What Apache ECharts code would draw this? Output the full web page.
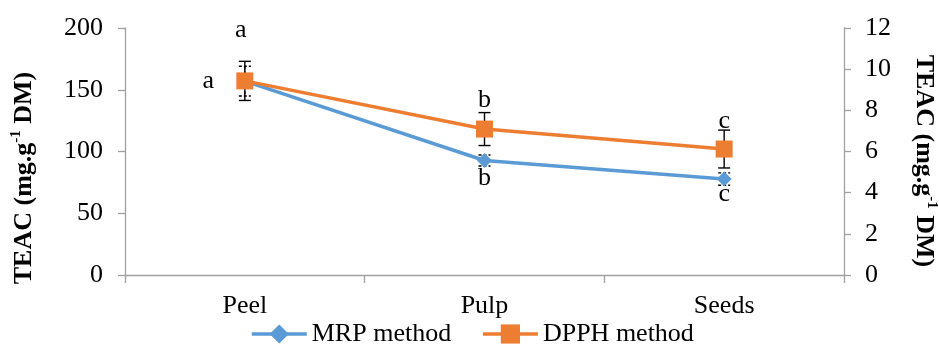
<!DOCTYPE html>
<html><head><meta charset="utf-8">
<script src="https://cdn.jsdelivr.net/npm/echarts@6/dist/echarts.min.js"></script>
<style>html,body{margin:0;padding:0;background:#fff}#c{width:939px;height:345px}</style>
</head><body><div id="c"></div>
<script>
// ---- data ----
const categories = ['Peel', 'Pulp', 'Seeds'];
const mrpValues = [157, 92.7, 77.7];      // left axis
const mrpErrors = [12, 4.5, 5];
const dpphValues = [9.43, 7.09, 6.12];    // right axis
const dpphErrors = [0.95, 0.8, 0.92];
const mrpLetters = ['a', 'b', 'c'];
const dpphLetters = ['a', 'b', 'c'];
const seriesNames = ['MRP method', 'DPPH method'];
const leftTicks = [0, 50, 100, 150, 200];
const rightTicks = [0, 2, 4, 6, 8, 10, 12];

// ---- style ----
const FONT = '"Liberation Serif", "Times New Roman", serif';
const BLUE = '#5B9BD5', ORANGE = '#ED7D31', AXIS = '#a0a0a0';
const mrpLabelOffsets = [[-36.5, 0], [0, 17.5], [0, 15.5]];
const dpphLabelOffsets = [[-4, -51], [0, -29], [0, -28]];

function errRender(dash) {
  return function (params, api) {
    const x = api.value(0), v = api.value(1), e = api.value(2);
    const t = api.coord([x, v + e]), b = api.coord([x, v - e]);
    const hw = 6;
    const st = { stroke: '#000', lineWidth: 1.4, lineDash: dash };
    return {
      type: 'group', children: [
        { type: 'line', shape: { x1: t[0], y1: t[1], x2: b[0], y2: b[1] }, style: st },
        { type: 'line', shape: { x1: t[0] - hw, y1: t[1], x2: t[0] + hw, y2: t[1] }, style: st },
        { type: 'line', shape: { x1: b[0] - hw, y1: b[1], x2: b[0] + hw, y2: b[1] }, style: st }
      ]
    };
  };
}

const axisLabelStyle = { fontFamily: FONT, fontSize: 26, color: '#000' };
const titleRich = {
  b: { fontFamily: FONT, fontSize: 26, fontWeight: 'bold', color: '#000', lineHeight: 30 },
  s: { fontFamily: FONT, fontSize: 15, fontWeight: 'bold', color: '#000', verticalAlign: 'top', lineHeight: 30 }
};

const chart = echarts.init(document.getElementById('c'), null, { renderer: 'canvas' });
chart.setOption({
  animation: false,
  backgroundColor: '#fff',
  grid: { left: 125, right: 95, top: 28, bottom: 70, containLabel: false },
  legend: {
    data: seriesNames, left: 250, top: 321, padding: 0, itemWidth: 55, itemHeight: 24, itemGap: 30,
    lineStyle: { width: 3.5 },
    textStyle: { fontFamily: FONT, fontSize: 26, color: '#000' }
  },
  xAxis: {
    type: 'category', data: categories, boundaryGap: true,
    axisLine: { lineStyle: { color: AXIS, width: 1.3 } },
    axisTick: { show: true, alignWithLabel: false, length: 8, lineStyle: { color: AXIS, width: 1.3 } },
    axisLabel: Object.assign({ margin: 18 }, axisLabelStyle)
  },
  yAxis: [
    {
      type: 'value', min: leftTicks[0], max: leftTicks[leftTicks.length - 1], interval: leftTicks[1] - leftTicks[0],
      axisLine: { show: true, lineStyle: { color: AXIS, width: 1.3 } },
      axisTick: { show: true, length: 7, lineStyle: { color: AXIS, width: 1.3 } },
      splitLine: { show: false },
      axisLabel: Object.assign({ margin: 22 }, axisLabelStyle)
    },
    {
      type: 'value', position: 'right', min: rightTicks[0], max: rightTicks[rightTicks.length - 1], interval: rightTicks[1] - rightTicks[0],
      axisLine: { show: true, lineStyle: { color: AXIS, width: 1.3 } },
      axisTick: { show: true, length: 7, lineStyle: { color: AXIS, width: 1.3 } },
      splitLine: { show: false },
      axisLabel: Object.assign({ margin: 21 }, axisLabelStyle)
    }
  ],
  graphic: [
    {
      type: 'text', x: 24, y: 178, rotation: Math.PI / 2,
      style: { text: '{b|TEAC (mg.g}{s|-1}{b| DM)}', rich: titleRich, align: 'center', verticalAlign: 'middle', textAlign: 'center', textVerticalAlign: 'middle' }
    },
    {
      type: 'text', x: 924, y: 161, rotation: -Math.PI / 2,
      style: { text: '{b|TEAC (mg.g}{s|-1}{b| DM)}', rich: titleRich, align: 'center', verticalAlign: 'middle', textAlign: 'center', textVerticalAlign: 'middle' }
    }
  ],
  series: [
    {
      type: 'custom', name: 'mrpErr', yAxisIndex: 0, z: 1,
      renderItem: errRender([3, 2]),
      encode: { x: 0, y: 1 },
      data: categories.map((c, i) => [i, mrpValues[i], mrpErrors[i]])
    },
    {
      type: 'custom', name: 'dpphErr', yAxisIndex: 1, z: 1,
      renderItem: errRender(null),
      encode: { x: 0, y: 1 },
      data: categories.map((c, i) => [i, dpphValues[i], dpphErrors[i]])
    },
    {
      type: 'line', name: seriesNames[0], yAxisIndex: 0, z: 3,
      symbol: 'diamond', symbolSize: 15, showAllSymbol: true,
      lineStyle: { color: BLUE, width: 3.5 }, itemStyle: { color: BLUE },
      data: mrpValues.map((v, i) => ({
        value: v,
        label: { show: true, formatter: mrpLetters[i], position: 'inside', offset: mrpLabelOffsets[i], fontFamily: FONT, fontSize: 26, color: '#000' }
      }))
    },
    {
      type: 'line', name: seriesNames[1], yAxisIndex: 1, z: 4,
      symbol: 'rect', symbolSize: 17, showAllSymbol: true,
      lineStyle: { color: ORANGE, width: 3.5 }, itemStyle: { color: ORANGE },
      data: dpphValues.map((v, i) => ({
        value: v,
        label: { show: true, formatter: dpphLetters[i], position: 'inside', offset: dpphLabelOffsets[i], fontFamily: FONT, fontSize: 26, color: '#000' }
      }))
    }
  ]
});
</script>
</body></html>
